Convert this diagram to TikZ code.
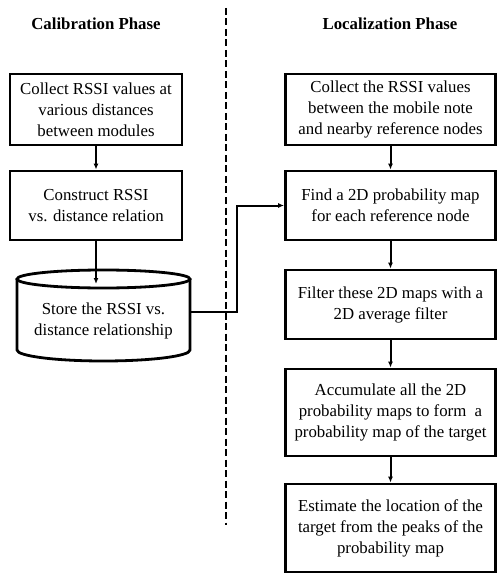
\documentclass[tikz,border=0pt]{standalone}
\usepackage{fontspec}
\setmainfont{Liberation Serif}
\usetikzlibrary{arrows.meta}
\begin{document}
\begin{tikzpicture}[x=1pt,y=-1pt,
  box/.style={draw,line width=2.8pt,rectangle,align=center,inner sep=0pt,
    font=\fontsize{16.8}{21}\selectfont},
  lbox/.style={box,minimum width=172pt},
  rbox/.style={box,minimum width=210pt},
  plain/.style={align=center,inner sep=0pt,font=\fontsize{16.8}{21}\selectfont},
  title/.style={font=\fontsize{16.8}{18}\selectfont\bfseries,inner sep=0pt},
  arr/.style={line width=2pt,-{Latex[length=6pt,width=5pt]}},
  conn/.style={line width=2pt}]
\useasboundingbox (0,0) rectangle (500,577);
\node[title] (t1) at (96,24) {Calibration Phase};
\node[title] (t2) at (390,24) {Localization Phase};
\draw[line width=2pt,dash pattern=on 7pt off 3.5pt] (226,8) -- (226,525);
% left
\node[lbox,minimum height=71pt] (b1) at (96,109.5) {Collect RSSI values at\\various distances\\between modules};
\node[lbox,minimum height=69pt] (b2) at (96,205.5) {Construct RSSI\\vs. distance relation};
% cylinder
\draw[line width=2.8pt] (17,279) -- (17,350) arc[start angle=180,end angle=0,x radius=86.5,y radius=11] -- (190,279);
\draw[line width=2.8pt] (103.5,279) ellipse[x radius=86.5,y radius=9];
\node[plain,minimum width=173pt] (store) at (103.5,321) {Store the RSSI vs.\\distance relationship};
\coordinate (storetop) at (103.5,284);
% right
\node[rbox,minimum height=71pt] (r1) at (390.5,109.5) {Collect the RSSI values\\between the mobile note\\and nearby reference nodes};
\node[rbox,minimum height=69pt] (r2) at (390.5,205.5) {Find a 2D probability map\\for each reference node};
\node[rbox,minimum height=69pt] (r3) at (390.5,304.5) {Filter these 2D maps with a\\2D average filter};
\node[rbox,minimum height=87pt] (r4) at (390.5,412.5) {Accumulate all the 2D\\probability maps to form~ a\\probability map of the target};
\node[rbox,minimum height=88pt] (r5) at (390.5,528) {Estimate the location of the\\target from the peaks of the\\probability map};
% arrows
\draw[arr] (b1.south) -- (b2.north);
\draw[arr] (b2.south) -- (b2.south |- storetop);
\draw[arr] (r1.south) -- (r2.north);
\draw[arr] (r2.south) -- (r3.north);
\draw[arr] (r3.south) -- (r4.north);
\draw[arr] (r4.south) -- (r5.north);
\coordinate (storeout) at (190,312);
\draw[arr] (storeout) -- (237,312) -- (237,205.5) -- (r2.west);
\end{tikzpicture}
\end{document}
